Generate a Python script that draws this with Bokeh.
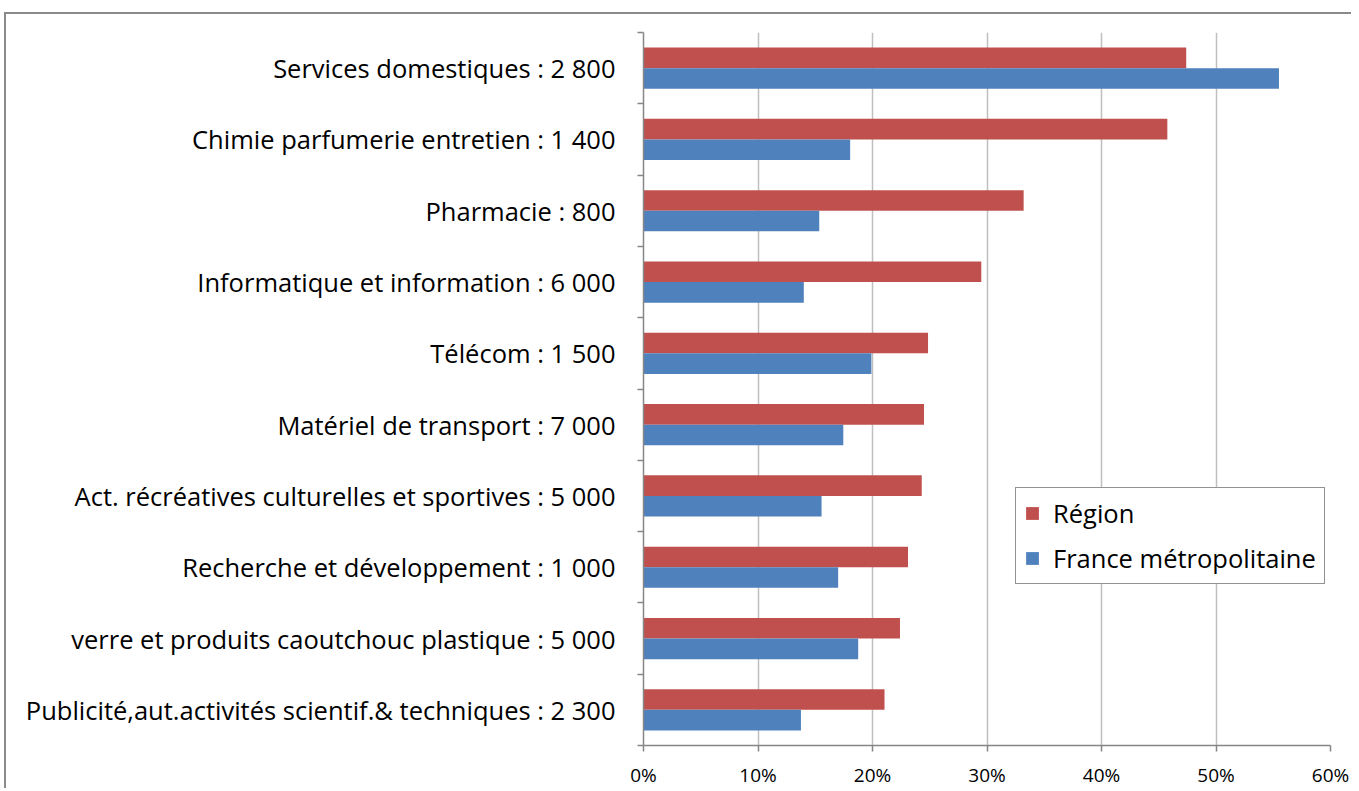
from bokeh.plotting import figure
from bokeh.models import Range1d, FixedTicker, Legend, LegendItem, ColumnDataSource
from bokeh.embed import file_html
from bokeh.resources import INLINE

categories = [
    "Services domestiques : 2 800",
    "Chimie parfumerie entretien : 1 400",
    "Pharmacie : 800",
    "Informatique et information : 6 000",
    "Télécom : 1 500",
    "Matériel de transport : 7 000",
    "Act. récréatives culturelles et sportives : 5 000",
    "Recherche et développement : 1 000",
    "verre et produits caoutchouc plastique : 5 000",
    "Publicité,aut.activités scientif.& techniques : 2 300",
]
region = [47.4, 45.75, 33.2, 29.5, 24.85, 24.5, 24.3, 23.1, 22.4, 21.05]
france = [55.5, 18.05, 15.35, 14.0, 19.9, 17.45, 15.55, 17.0, 18.75, 13.75]
series_names = ["Région", "France métropolitaine"]
x_ticks = [0, 10, 20, 30, 40, 50, 60]
x_tick_labels = ["0%", "10%", "20%", "30%", "40%", "50%", "60%"]

RED = "#C0504D"
BLUE = "#4F81BD"
AXIS = "#868686"
GRID = "#BFBFBF"
FONT = "Open Sans"

n = len(categories)
centers = [n - i - 0.5 for i in range(n)]
bar_h = 0.289
off = bar_h / 2

src = ColumnDataSource(dict(
    cat=categories,
    region=region,
    france=france,
    y_region=[c + off for c in centers],
    y_france=[c - off for c in centers],
))

p = figure(
    width=1347, height=776,
    x_range=Range1d(0, 60), y_range=Range1d(0, n),
    output_backend="svg", toolbar_location=None,
    min_border_left=637, min_border_right=23,
    min_border_top=18, min_border_bottom=43,
)
p.styles = {
    "margin-left": "4px", "margin-top": "12px",
    "border-top": "2px solid #8a8a8a", "border-left": "2px solid #8a8a8a",
}
p.outline_line_color = None
p.background_fill_color = "white"
p.border_fill_color = "white"

r_red = p.hbar(y="y_region", right="region", left=0, height=bar_h, source=src,
               fill_color=RED, line_color=None)
r_blue = p.hbar(y="y_france", right="france", left=0, height=bar_h, source=src,
                fill_color=BLUE, line_color=None)

# x axis
xa = p.xaxis[0]
xa.ticker = FixedTicker(ticks=x_ticks, minor_ticks=[])
xa.major_label_overrides = {t: l for t, l in zip(x_ticks, x_tick_labels)}
xa.axis_line_color = AXIS
xa.axis_line_width = 1.5
xa.major_tick_line_color = AXIS
xa.major_tick_line_width = 1.5
xa.major_tick_out = 6
xa.major_tick_in = 0
xa.major_label_standoff = 10
xa.major_label_text_font = FONT
xa.major_label_text_font_size = "19px"
xa.major_label_text_color = "black"

# y axis: labels at category centres, ticks at category boundaries
ya = p.yaxis[0]
ya.ticker = FixedTicker(ticks=centers, minor_ticks=list(range(n + 1)))
ya.major_label_overrides = {c: name for c, name in zip(centers, categories)}
ya.axis_line_color = AXIS
ya.axis_line_width = 1.5
ya.major_tick_out = 0
ya.major_tick_in = 0
ya.minor_tick_out = 6
ya.minor_tick_in = 0
ya.minor_tick_line_color = AXIS
ya.minor_tick_line_width = 1.5
ya.major_label_standoff = 22
ya.major_label_text_font = FONT
ya.major_label_text_font_size = "25.5px"
ya.major_label_text_color = "black"

p.xgrid.ticker = FixedTicker(ticks=x_ticks, minor_ticks=[])
p.xgrid.grid_line_color = GRID
p.xgrid.grid_line_width = 1.5
p.ygrid.grid_line_color = None

legend = Legend(
    items=[LegendItem(label=series_names[0], renderers=[r_red]),
           LegendItem(label=series_names[1], renderers=[r_blue])],
    location=(372, 161),
    orientation="vertical",
    glyph_width=16, glyph_height=16,
    label_standoff=13, spacing=11, padding=8, margin=0,
    label_text_font=FONT, label_text_font_size="25.5px", label_text_color="black",
    border_line_color="#262626", border_line_width=1.2,
    background_fill_color="white", background_fill_alpha=1.0,
)
p.add_layout(legend)

open("out.html", "w").write(file_html(p, INLINE))
